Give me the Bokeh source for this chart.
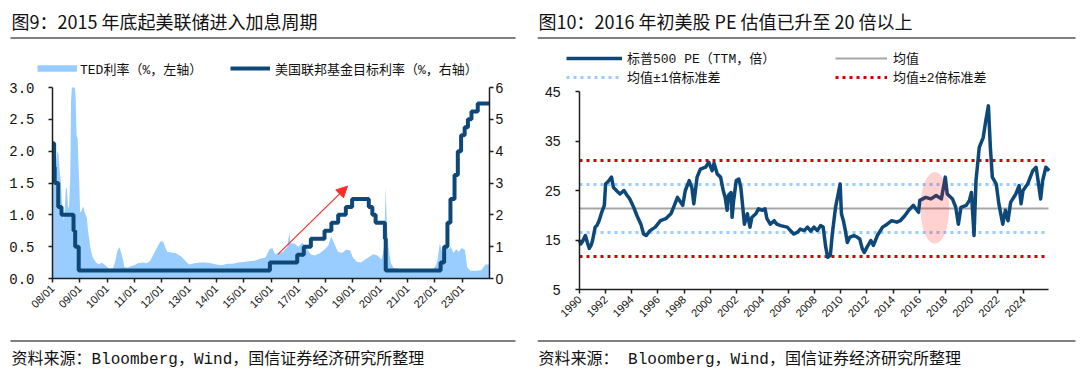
from bokeh.plotting import figure
from bokeh.models import (Range1d, LinearAxis, FixedTicker, Label, Arrow, NormalHead,
                          Legend, LegendItem, NumeralTickFormatter)
from bokeh.layouts import row
from bokeh.embed import file_html
from bokeh.resources import INLINE
from math import pi

# ---------------- texts ----------------
left_title = "图9：2015 年底起美联储进入加息周期"
right_title = "图10：2016 年初美股 PE 估值已升至 20 倍以上"
left_source = "资料来源：Bloomberg，Wind，国信证券经济研究所整理"
right_source = "资料来源： Bloomberg，Wind，国信证券经济研究所整理"
ted_name = "TED利率（%，左轴）"
ffr_name = "美国联邦基金目标利率（%，右轴）"
pe_name = "标普500 PE（TTM，倍）"
mean_name = "均值"
sd1_name = "均值±1倍标准差"
sd2_name = "均值±2倍标准差"

# ---------------- left chart data ----------------
ted_t = [2008.00, 2008.03, 2008.06, 2008.10, 2008.14, 2008.18, 2008.22, 2008.26, 2008.30, 2008.34,
         2008.38, 2008.42, 2008.46, 2008.49, 2008.53, 2008.57, 2008.61, 2008.65, 2008.68, 2008.71,
         2008.75, 2008.79, 2008.82, 2008.85, 2008.88, 2008.92, 2008.95, 2008.98, 2009.01, 2009.05,
         2009.09, 2009.13, 2009.17, 2009.21, 2009.26, 2009.30, 2009.35, 2009.40, 2009.46, 2009.52,
         2009.60, 2009.70, 2009.80, 2009.90, 2010.00, 2010.10, 2010.22, 2010.30, 2010.38, 2010.45,
         2010.52, 2010.58, 2010.63, 2010.75, 2010.90, 2011.00, 2011.12, 2011.30, 2011.45, 2011.58,
         2011.70, 2011.82, 2011.95, 2012.05, 2012.12, 2012.20, 2012.35, 2012.50, 2012.62, 2012.72,
         2012.82, 2012.92, 2013.00, 2013.20, 2013.40, 2013.60, 2013.80, 2014.00, 2014.20, 2014.40,
         2014.60, 2014.80, 2015.00, 2015.20, 2015.40, 2015.60, 2015.80, 2015.95, 2016.05, 2016.15,
         2016.30, 2016.45, 2016.60, 2016.67, 2016.72, 2016.85, 2017.00, 2017.15, 2017.30, 2017.45,
         2017.60, 2017.80, 2017.95, 2018.10, 2018.20, 2018.30, 2018.45, 2018.60, 2018.75, 2018.90,
         2019.00, 2019.15, 2019.30, 2019.45, 2019.60, 2019.75, 2019.90, 2020.05, 2020.14, 2020.20,
         2020.24, 2020.30, 2020.38, 2020.48, 2020.70, 2021.00, 2021.30, 2021.60, 2021.90, 2022.03,
         2022.10, 2022.18, 2022.28, 2022.38, 2022.48, 2022.58, 2022.68, 2022.78, 2022.88, 2022.98,
         2023.10, 2023.18, 2023.30, 2023.50, 2023.70, 2023.85, 2024.00]
ted_v = [2.25, 1.75, 1.55, 1.60, 1.85, 2.00, 1.95, 1.70, 1.55, 1.25,
         1.05, 0.90, 1.20, 1.43, 1.40, 1.10, 1.15, 1.60, 2.80, 3.60,
         4.50, 3.80, 3.10, 2.80, 2.25, 2.20, 1.80, 1.50, 1.05, 1.05,
         1.10, 1.13, 1.05, 1.00, 0.95, 0.75, 0.60, 0.45, 0.35, 0.30,
         0.25, 0.22, 0.25, 0.22, 0.18, 0.15, 0.16, 0.28, 0.44, 0.49,
         0.40, 0.30, 0.18, 0.17, 0.20, 0.21, 0.24, 0.25, 0.24, 0.28,
         0.38, 0.48, 0.58, 0.58, 0.50, 0.42, 0.41, 0.40, 0.37, 0.34,
         0.30, 0.25, 0.22, 0.24, 0.25, 0.25, 0.24, 0.22, 0.21, 0.23,
         0.23, 0.25, 0.26, 0.27, 0.28, 0.31, 0.33, 0.46, 0.48, 0.38,
         0.40, 0.42, 0.50, 0.72, 0.55, 0.55, 0.50, 0.56, 0.48, 0.38,
         0.36, 0.40, 0.45, 0.52, 0.66, 0.56, 0.42, 0.40, 0.45, 0.44,
         0.33, 0.26, 0.25, 0.30, 0.34, 0.38, 0.36, 0.30, 0.50, 1.44,
         0.85, 0.50, 0.25, 0.17, 0.15, 0.14, 0.13, 0.14, 0.13, 0.20,
         0.30, 0.55, 0.40, 0.50, 0.46, 0.50, 0.40, 0.46, 0.42, 0.48,
         0.45, 0.18, 0.12, 0.12, 0.13, 0.22, 0.22]

ffr_t = [2008.00, 2008.06, 2008.08, 2008.21, 2008.33, 2008.77, 2008.83, 2008.96,
         2015.96, 2016.96, 2017.20, 2017.46, 2017.96, 2018.21, 2018.46, 2018.74, 2018.97,
         2019.58, 2019.71, 2019.83, 2020.17, 2020.20,
         2022.21, 2022.34, 2022.46, 2022.57, 2022.72, 2022.84, 2022.96,
         2023.09, 2023.21, 2023.34, 2023.57, 2024.00]
ffr_v = [4.25, 3.50, 3.00, 2.25, 2.00, 1.50, 1.00, 0.25,
         0.50, 0.75, 1.00, 1.25, 1.50, 1.75, 2.00, 2.25, 2.50,
         2.25, 2.00, 1.75, 1.25, 0.25,
         0.50, 1.00, 1.75, 2.50, 3.25, 4.00, 4.50,
         4.75, 5.00, 5.25, 5.50, 5.50]

left_x_span = (2008, 2024)
left_x_ticks = list(range(2008, 2024))
left_x_labels = ["08/01", "09/01", "10/01", "11/01", "12/01", "13/01", "14/01", "15/01",
                 "16/01", "17/01", "18/01", "19/01", "20/01", "21/01", "22/01", "23/01"]
left_y_span = (0.0, 3.0)
left_y_ticks = [0.0, 0.5, 1.0, 1.5, 2.0, 2.5, 3.0]
left_y2_span = (0, 6)
left_y2_ticks = [0, 1, 2, 3, 4, 5, 6]
arrow_x = [2016.25, 2018.8]
arrow_y = [0.38, 1.45]

# ---------------- right chart data ----------------
pe_t = [1990.00, 1990.10, 1990.25, 1990.45, 1990.60, 1990.75, 1990.90, 1991.00, 1991.20, 1991.35,
        1991.50, 1991.70, 1991.90, 1992.00, 1992.25, 1992.45, 1992.60, 1992.90, 1993.10, 1993.40,
        1993.65, 1993.85, 1994.15, 1994.40, 1994.70, 1994.90, 1995.10, 1995.40, 1995.80, 1996.20,
        1996.60, 1997.00, 1997.20, 1997.50, 1997.75, 1997.90, 1998.10, 1998.40, 1998.60, 1998.75,
        1999.00, 1999.25, 1999.65, 1999.90, 2000.15, 2000.30, 2000.55, 2000.80, 2001.00, 2001.15,
        2001.30, 2001.40, 2001.60, 2001.68, 2001.80, 2002.00, 2002.20, 2002.35, 2002.50, 2002.62,
        2002.85, 2003.05, 2003.20, 2003.50, 2003.70, 2004.00, 2004.20, 2004.35, 2004.60, 2004.90,
        2005.10, 2005.40, 2005.90, 2006.15, 2006.40, 2006.70, 2006.90, 2007.20, 2007.45, 2007.70,
        2007.95, 2008.20, 2008.45, 2008.65, 2008.85, 2009.00, 2009.20, 2009.35, 2009.60, 2009.80,
        2009.95, 2010.05, 2010.20, 2010.35, 2010.50, 2010.70, 2011.00, 2011.25, 2011.45, 2011.65,
        2011.80, 2012.00, 2012.30, 2012.50, 2012.80, 2013.20, 2013.55, 2013.90, 2014.30, 2014.55,
        2014.90, 2015.20, 2015.55, 2015.95, 2016.05, 2016.50, 2016.90, 2017.30, 2017.70, 2018.00,
        2018.15, 2018.55, 2018.80, 2019.00, 2019.20, 2019.60, 2019.85, 2020.00, 2020.20, 2020.35,
        2020.60, 2020.90, 2021.10, 2021.30, 2021.45, 2021.60, 2021.90, 2022.10, 2022.40, 2022.60,
        2022.80, 2023.00, 2023.40, 2023.65, 2023.80, 2023.95, 2024.30, 2024.70, 2024.95, 2025.10,
        2025.30, 2025.45, 2025.70, 2025.95]
pe_v = [15.0, 14.2, 14.8, 15.9, 14.5, 13.3, 14.0, 14.9, 17.6, 18.0,
        18.9, 20.6, 22.0, 26.3, 27.0, 27.7, 25.6, 24.8, 24.3, 25.0,
        24.0, 23.3, 21.6, 19.9, 18.2, 16.2, 15.9, 16.9, 17.6, 18.9,
        19.3, 20.3, 21.6, 23.6, 22.6, 22.0, 25.0, 27.0, 25.6, 22.3,
        27.7, 29.3, 29.7, 30.7, 29.0, 30.5, 28.3, 27.7, 25.0, 23.6,
        21.0, 24.0, 24.6, 19.6, 23.0, 27.0, 27.3, 25.6, 21.6, 18.2,
        20.3, 17.6, 19.6, 20.3, 21.3, 21.0, 21.3, 19.3, 18.2, 18.9,
        18.2, 17.9, 17.6, 16.9, 16.2, 16.6, 17.2, 16.9, 17.6, 16.8,
        17.6, 16.9, 17.9, 17.6, 13.5, 11.5, 11.9, 16.2, 21.6, 24.3,
        26.3, 20.3, 18.9, 16.9, 14.5, 15.6, 15.9, 15.6, 15.2, 13.2,
        12.5, 13.5, 14.9, 13.9, 15.9, 17.6, 18.2, 18.9, 18.6, 18.9,
        19.9, 21.0, 22.0, 20.6, 23.0, 23.6, 23.3, 24.0, 23.3, 27.7,
        24.3, 23.3, 21.6, 18.2, 21.6, 22.0, 23.0, 24.6, 15.9, 27.0,
        33.7, 35.7, 39.1, 42.1, 33.7, 27.7, 26.3, 22.3, 18.2, 21.0,
        18.9, 22.6, 24.3, 26.0, 22.3, 25.0, 26.3, 29.0, 29.7, 27.0,
        23.3, 27.0, 29.7, 29.0]
pe_mean = 21.35
pe_std = 4.85
right_x_span = (1990, 2025.9)
right_x_ticks = list(range(1990, 2025, 2))
right_y_span = (5, 45)
right_y_ticks = [5, 15, 25, 35, 45]
ellipse_x = [2017.2]
ellipse_y = [21.5]
ellipse_w = [2.2]
ellipse_h = [14.5]

# ---------------- layout / styles ----------------
H = 377
LW, RW = 537, 543
CJK = "Noto Sans CJK SC"
MIX = "Liberation Mono, Noto Sans CJK SC"
NAVY = "#0d4878"
LIGHT = "#99CCFF"
AX = "#1f1f1f"
TXT = "#111111"
NAN = float("nan")


def range_for(span, px0, px1, total, flip=False):
    """data span mapped onto pixel interval [px0, px1] of a canvas of size total"""
    a, b = span
    k = (b - a) / (px1 - px0)
    if not flip:
        return Range1d(a - px0 * k, b + (total - px1) * k)
    # vertical: px0 = pixel of top (value b), px1 = pixel of bottom (value a)
    return Range1d(a - (total - px1) * k, b + px0 * k)


def make_fig(width, xr, yr):
    p = figure(width=width, height=H, x_range=xr, y_range=yr,
               output_backend="svg", toolbar_location=None, title=None, min_border=0,
               x_axis_location=None, y_axis_location=None)
    p.outline_line_color = None
    p.grid.visible = False
    p.background_fill_color = "white"
    p.border_fill_color = "white"
    return p


def style_axis(ax, font, size, standoff, tick_out=4):
    ax.axis_line_color = AX
    ax.axis_line_width = 1.5
    ax.major_tick_line_color = AX
    ax.major_tick_line_width = 1.5
    ax.major_tick_out = tick_out
    ax.major_tick_in = 0
    ax.minor_tick_line_color = None
    ax.major_label_text_font = font
    ax.major_label_text_font_size = size
    ax.major_label_text_color = TXT
    ax.major_label_standoff = standoff


def page_label(p, ox, X, Y, text, font, size):
    p.add_layout(Label(x=X - ox, y=H - Y, x_units="screen", y_units="screen", text=text,
                       text_font=font, text_font_size=size, text_color=TXT,
                       text_baseline="middle", text_align="left"))


def page_rule(p, ox, X0, X1, Y):
    p.add_layout(Arrow(start=None, end=None, x_start=X0 - ox, y_start=H - Y,
                       x_end=X1 - ox, y_end=H - Y, start_units="screen", end_units="screen",
                       line_color="#000000", line_width=1.2))


def one_legend(p, ox, X, Y, item, glyph_w, standoff):
    lg = Legend(items=[item], location=(X - ox, H - Y - 11), orientation="horizontal",
                glyph_width=glyph_w, glyph_height=22, label_height=22, label_standoff=standoff,
                padding=0, margin=0, spacing=0, border_line_color=None,
                background_fill_alpha=0, label_text_font=MIX, label_text_font_size="13px",
                label_text_color=TXT)
    p.add_layout(lg)


# ================= left chart =================
# plot area in page pixels: x 52..489, y 87..278
p1 = make_fig(LW, range_for(left_x_span, 52, 489, LW),
              range_for(left_y_span, 87, 278, H, flip=True))
p1.extra_y_ranges = {"ffr": range_for(left_y2_span, 87, 278, H, flip=True)}

ted_shown = [min(v, left_y_span[1]) for v in ted_v]   # values above 3.0 are cut at the top
ted_r = p1.varea(x=ted_t, y1=[0] * len(ted_t), y2=ted_shown, fill_color=LIGHT, fill_alpha=1.0)
ffr_r = p1.step(x=ffr_t, y=ffr_v, mode="after", y_range_name="ffr", line_color=NAVY,
                line_width=4)
# a line that draws nothing, used only as the legend swatch of the TED area
ted_swatch = p1.line(x=[NAN], y=[NAN], line_color=LIGHT, line_width=6.5)

p1.add_layout(Arrow(end=NormalHead(size=11, fill_color="#ff2a2a", line_color="#ff2a2a"),
                    x_start=arrow_x[0], y_start=arrow_y[0], x_end=arrow_x[1], y_end=arrow_y[1],
                    line_color="#ff2a2a", line_width=1.2))

ax_b = LinearAxis(fixed_location=left_y_span[0], bounds=left_x_span,
                  ticker=FixedTicker(ticks=left_x_ticks),
                  major_label_overrides={t: s for t, s in zip(left_x_ticks, left_x_labels)},
                  major_label_orientation=pi / 4)
style_axis(ax_b, "Liberation Sans", "11px", 4)
p1.add_layout(ax_b, "below")
ax_l = LinearAxis(fixed_location=left_x_span[0], bounds=left_y_span,
                  ticker=FixedTicker(ticks=left_y_ticks),
                  formatter=NumeralTickFormatter(format="0.0"))
style_axis(ax_l, "Liberation Mono", "14px", 14)
p1.add_layout(ax_l, "left")
ax_r = LinearAxis(y_range_name="ffr", fixed_location=left_x_span[1], bounds=left_y2_span,
                  ticker=FixedTicker(ticks=left_y2_ticks))
style_axis(ax_r, "Liberation Sans", "14px", 2)
p1.add_layout(ax_r, "right")

page_label(p1, 0, 11, 20, left_title, CJK, "18px")
page_rule(p1, 0, 10, 515, 37.5)
page_rule(p1, 0, 10, 515, 340.5)
page_label(p1, 0, 11, 359, left_source, MIX, "16px")
one_legend(p1, 0, 37, 68, LegendItem(label=ted_name, renderers=[ted_swatch]), 40, 3)
one_legend(p1, 0, 230, 68, LegendItem(label=ffr_name, renderers=[ffr_r]), 40, 5)

# ================= right chart =================
# plot area in page pixels: x 579..1048, y 91..289  (panel starts at page x 537)
OX = LW
p2 = make_fig(RW, range_for(right_x_span, 579 - OX, 1048 - OX, RW),
              range_for(right_y_span, 91, 289, H, flip=True))

xs = [right_x_span[0], pe_t[-1] - 0.2]
sd2_hi = p2.line(x=xs, y=[pe_mean + 2 * pe_std] * 2, line_color="#d40000", line_width=3,
                 line_dash="3 4")
sd2_lo = p2.line(x=xs, y=[pe_mean - 2 * pe_std] * 2, line_color="#d40000", line_width=3,
                 line_dash="3 4")
sd1_hi = p2.line(x=xs, y=[pe_mean + pe_std] * 2, line_color="#99CCFF", line_width=3,
                 line_dash="3 4")
sd1_lo = p2.line(x=xs, y=[pe_mean - pe_std] * 2, line_color="#99CCFF", line_width=3,
                 line_dash="3 4")
mean_r = p2.line(x=list(right_x_span), y=[pe_mean] * 2, line_color="#a6a6a6", line_width=2)
pe_r = p2.line(x=pe_t, y=pe_v, line_color=NAVY, line_width=3.5, line_join="round")
p2.ellipse(x=ellipse_x, y=ellipse_y, width=ellipse_w, height=ellipse_h,
           fill_color="#ff0000", fill_alpha=0.18, line_color=None)

ax_b2 = LinearAxis(fixed_location=right_y_span[0], bounds=right_x_span,
                   ticker=FixedTicker(ticks=right_x_ticks), major_label_orientation=pi / 4)
style_axis(ax_b2, "Liberation Sans", "11px", 4)
p2.add_layout(ax_b2, "below")
ax_l2 = LinearAxis(fixed_location=right_x_span[0], bounds=right_y_span,
                   ticker=FixedTicker(ticks=right_y_ticks))
style_axis(ax_l2, "Liberation Sans", "14px", 15)
p2.add_layout(ax_l2, "left")

page_label(p2, OX, 538, 20, right_title, CJK, "18px")
page_rule(p2, OX, 537, 1075, 37.5)
page_rule(p2, OX, 537, 1075, 340.5)
page_label(p2, OX, 538, 359, right_source, MIX, "16px")
one_legend(p2, OX, 566, 57.7, LegendItem(label=pe_name, renderers=[pe_r]), 56, 5)
one_legend(p2, OX, 835, 57.7, LegendItem(label=mean_name, renderers=[mean_r]), 52, 6)
one_legend(p2, OX, 566, 76.7, LegendItem(label=sd1_name, renderers=[sd1_hi]), 56, 5)
one_legend(p2, OX, 835, 76.7, LegendItem(label=sd2_name, renderers=[sd2_hi]), 52, 6)

layout = row(p1, p2)
open("out.html", "w").write(file_html(layout, INLINE))
